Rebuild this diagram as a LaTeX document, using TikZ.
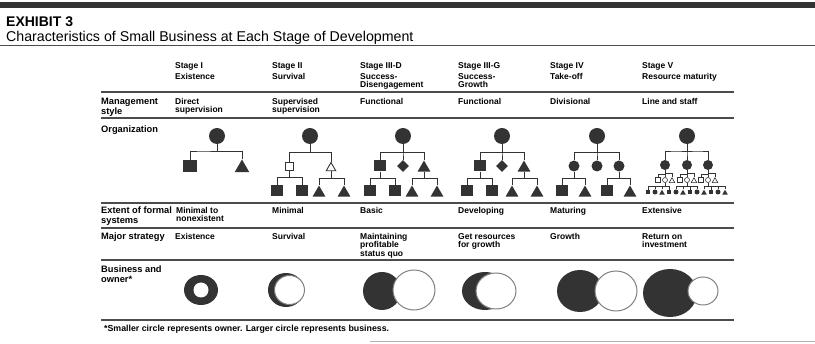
\documentclass[tikz,border=0pt]{standalone}
\usepackage{fontspec}
\setmainfont{Liberation Sans}
\usetikzlibrary{shapes.geometric,calc}

\tikzset{
  rule/.style={black!70, line width=1.3pt},
  orgline/.style={black!80, line width=1pt},
  rowlabel/.style={anchor=north west, inner sep=0pt, align=left, font=\fontsize{9.3}{9.5}\selectfont\bfseries},
  cell/.style={anchor=north west, inner sep=0pt, align=left, font=\fontsize{8.5}{8.6}\selectfont\bfseries},
  boss/.style={circle, fill=black!80, inner sep=0pt, minimum size=16pt},
  sqbox/.style={rectangle, fill=black!80, inner sep=0pt, minimum width=12pt, minimum height=11pt},
  tribox/.style={regular polygon, regular polygon sides=3, fill=black!80, inner sep=0pt, minimum size=15pt, yshift=-2pt},
  diabox/.style={diamond, fill=black!80, inner sep=0pt, minimum size=12pt},
  dotbox/.style={circle, fill=black!80, inner sep=0pt, minimum size=11pt},
  hollow/.style={fill=white, draw=black!80, line width=0.9pt},
  tinysq/.style={rectangle, inner sep=0pt, minimum size=4.5pt},
  tinydot/.style={circle, inner sep=0pt, minimum size=5pt},
  tinytri/.style={regular polygon, regular polygon sides=3, inner sep=0pt, minimum size=6.5pt, yshift=-1pt},
  owner/.style={fill=white, draw=black!50, line width=1pt},
}

\begin{document}
\begin{tikzpicture}[x=1pt, y=-1pt]
  \useasboundingbox (0,0) rectangle (815,344);

  % Header
  \fill[black!80] (0,2) rectangle (815,8);
  \node[anchor=north west, inner sep=0pt, font=\fontsize{14}{16}\selectfont\bfseries] (exhibit) at (6,17) {EXHIBIT 3};
  \node[anchor=north west, inner sep=0pt, font=\fontsize{14.2}{16}\selectfont] (title) at (6,31) {Characteristics of Small Business at Each Stage of Development};
  \draw[black!70, line width=1pt] (0,46) -- (815,46);

  % Stages
  \node[cell] (st1) at (175,62) {Stage I};
  \node[cell] (st2) at (272,62) {Stage II};
  \node[cell] (st3) at (360,62) {Stage III-D};
  \node[cell] (st4) at (458,62) {Stage III-G};
  \node[cell] (st5) at (550,62) {Stage IV};
  \node[cell] (st6) at (642,62) {Stage V};
  \node[cell] (nm1) at (175,73) {Existence};
  \node[cell] (nm2) at (272,73) {Survival};
  \node[cell] (nm3) at (360,73) {Success-\\Disengagement};
  \node[cell] (nm4) at (458,73) {Success-\\Growth};
  \node[cell] (nm5) at (550,73) {Take-off};
  \node[cell] (nm6) at (642,73) {Resource maturity};

  % Rules
  \foreach \y in {92,118,203,228,260,320}
    \draw[rule] (101,\y) -- (734,\y);

  % Management style
  \node[rowlabel] (lmgmt) at (101,98) {Management\\style};
  \node[cell] (mg1) at (175,98) {Direct\\supervision};
  \node[cell] (mg2) at (272,98) {Supervised\\supervision};
  \node[cell] (mg3) at (360,98) {Functional};
  \node[cell] (mg4) at (458,98) {Functional};
  \node[cell] (mg5) at (550,98) {Divisional};
  \node[cell] (mg6) at (642,98) {Line and staff};

  % Organization
  \node[rowlabel] (lorg) at (101,126) {Organization};

  \node[boss] (s1top) at (217,136) {};
  \node[sqbox, minimum width=14pt, minimum height=12pt] (s1a) at (190,166) {};
  \node[tribox, minimum size=17pt] (s1b) at (242,166) {};

  \node[boss] (s2top) at (310,136) {};
  \node[sqbox, hollow, minimum width=8pt, minimum height=8pt] (s2a) at (289,166) {};
  \node[tribox, hollow, minimum size=11pt] (s2b) at (331,166) {};
  \node[sqbox] (s2c) at (277,191) {};
  \node[sqbox] (s2d) at (302,191) {};
  \node[tribox] (s2e) at (319,191) {};
  \node[tribox] (s2f) at (344,191) {};

  \node[boss] (s3top) at (403,136) {};
  \node[sqbox] (s3a) at (380,166) {};
  \node[diabox] (s3b) at (403,166) {};
  \node[tribox] (s3c) at (424,166) {};
  \node[sqbox] (s3d) at (370,191) {};
  \node[sqbox] (s3e) at (395,191) {};
  \node[tribox] (s3f) at (412,191) {};
  \node[tribox] (s3g) at (437,191) {};

  \node[boss] (s4top) at (502,136) {};
  \node[sqbox] (s4a) at (480,166) {};
  \node[diabox] (s4b) at (502,166) {};
  \node[tribox] (s4c) at (524,166) {};
  \node[sqbox] (s4d) at (467,191) {};
  \node[sqbox] (s4e) at (492,191) {};
  \node[tribox] (s4f) at (512,191) {};
  \node[tribox] (s4g) at (537,191) {};

  \node[boss] (s5top) at (597,136) {};
  \node[dotbox] (s5a) at (574,166) {};
  \node[dotbox] (s5b) at (597,166) {};
  \node[dotbox] (s5c) at (619,166) {};
  \node[sqbox] (s5d) at (562,191) {};
  \node[tribox] (s5e) at (585,191) {};
  \node[sqbox] (s5f) at (607,191) {};
  \node[tribox] (s5g) at (630,191) {};

  \node[boss] (s6top) at (687,136) {};
  \node[dotbox, minimum size=10pt] (s6a) at (665,165) {};
  \node[dotbox, minimum size=10pt] (s6b) at (687,165) {};
  \node[dotbox, minimum size=10pt] (s6c) at (708,165) {};
  \foreach \x/\i/\s in {658/1/tinysq, 665/2/tinydot, 672/3/tinytri,
                        680/4/tinysq, 687/5/tinydot, 694/6/tinytri,
                        701/7/tinysq, 708/8/tinydot, 715/9/tinytri}
    \node[\s, hollow, line width=0.6pt] (s6r\i) at (\x,180) {};
  \foreach \x/\i/\s in {648/1/tinysq, 655/2/tinydot, 662/3/tinytri, 669/4/tinysq,
                        676/5/tinydot, 683/6/tinytri, 690/7/tinysq, 697/8/tinydot,
                        704/9/tinytri, 711/10/tinysq, 718/11/tinydot, 725/12/tinytri}
    \node[\s, fill=black!80] (s6q\i) at (\x,192) {};

  % org links
  \foreach \p/\c in {s1top/s1a, s1top/s1b,
                     s2top/s2a, s2top/s2b, s2a/s2c, s2a/s2d, s2b/s2e, s2b/s2f,
                     s3top/s3a, s3top/s3b, s3top/s3c, s3a/s3d, s3a/s3e, s3c/s3f, s3c/s3g,
                     s4top/s4a, s4top/s4b, s4top/s4c, s4a/s4d, s4a/s4e, s4c/s4f, s4c/s4g,
                     s5top/s5a, s5top/s5b, s5top/s5c, s5a/s5d, s5a/s5e, s5c/s5f, s5c/s5g,
                     s6top/s6a, s6top/s6b, s6top/s6c}
    \draw[orgline] (\p.south) |- ($(\p.south)!.5!(\c.north)$) -| (\c.north);
  \foreach \p/\c in {s6a/s6r1, s6a/s6r2, s6a/s6r3, s6b/s6r4, s6b/s6r5, s6b/s6r6,
                     s6c/s6r7, s6c/s6r8, s6c/s6r9,
                     s6r2/s6q1, s6r2/s6q2, s6r2/s6q3, s6r2/s6q4,
                     s6r5/s6q5, s6r5/s6q6, s6r5/s6q7, s6r5/s6q8,
                     s6r8/s6q9, s6r8/s6q10, s6r8/s6q11, s6r8/s6q12}
    \draw[black!80, line width=0.6pt] (\p.south) |- ($(\p.south)!.5!(\c.north)$) -| (\c.north);

  % Extent of formal systems
  \node[rowlabel] (lsys) at (101,207) {Extent of formal\\systems};
  \node[cell] (sy1) at (176,207) {Minimal to\\nonexistent};
  \node[cell] (sy2) at (272,207) {Minimal};
  \node[cell] (sy3) at (360,207) {Basic};
  \node[cell] (sy4) at (458,207) {Developing};
  \node[cell] (sy5) at (550,207) {Maturing};
  \node[cell] (sy6) at (642,207) {Extensive};

  % Major strategy
  \node[rowlabel] (lstr) at (101,233) {Major strategy};
  \node[cell] (ms1) at (175,233) {Existence};
  \node[cell] (ms2) at (272,233) {Survival};
  \node[cell] (ms3) at (360,233) {Maintaining\\profitable\\status quo};
  \node[cell] (ms4) at (458,233) {Get resources\\for growth};
  \node[cell] (ms5) at (550,233) {Growth};
  \node[cell] (ms6) at (642,233) {Return on\\investment};

  % Business and owner
  \node[rowlabel] (lbus) at (101,266) {Business and\\owner*};
  \fill[black!80] (201,290) ellipse [x radius=17, y radius=15];
  \fill[white] (201,290) ellipse [x radius=7.5, y radius=7.5];
  \fill[black!80] (286,290) ellipse [x radius=18, y radius=17];
  \filldraw[owner] (289.5,290) ellipse [x radius=15, y radius=14.5];
  \fill[black!80] (382,291) ellipse [x radius=19, y radius=19];
  \filldraw[owner] (414,290) ellipse [x radius=21, y radius=20];
  \fill[black!80] (485,291) ellipse [x radius=23, y radius=19];
  \filldraw[owner] (496,291) ellipse [x radius=20, y radius=18];
  \fill[black!80] (580,291) ellipse [x radius=23, y radius=21];
  \filldraw[owner] (616,291) ellipse [x radius=21, y radius=20];
  \fill[black!80] (670,293) ellipse [x radius=27, y radius=24];
  \filldraw[owner] (703,291) ellipse [x radius=15, y radius=14];

  % Footnote
  \node[anchor=north west, inner sep=0pt, font=\fontsize{8.8}{9}\selectfont\bfseries] (note) at (104,325) {*Smaller circle represents owner. Larger circle represents business.};
  \draw[black!30, line width=0.8pt] (370,341) -- (815,341);
\end{tikzpicture}
\end{document}
